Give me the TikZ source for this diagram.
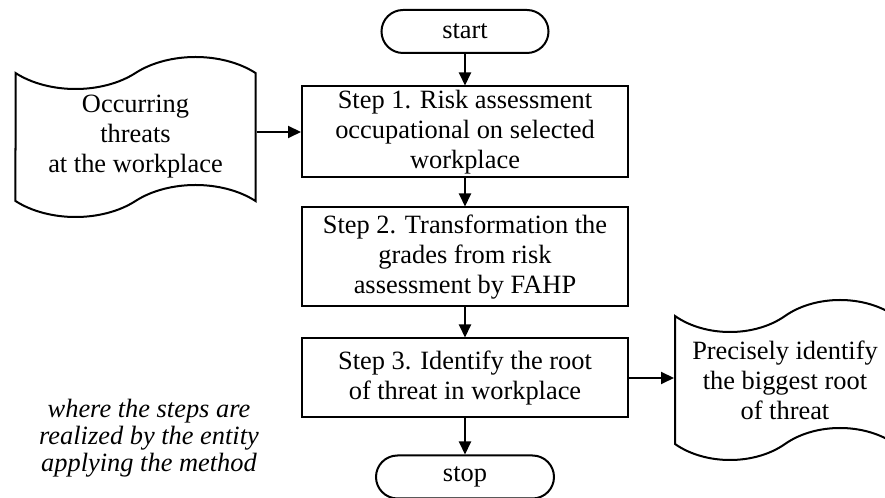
\documentclass[tikz,border=0pt]{standalone}
\usepackage{fontspec}
\setmainfont{Liberation Serif}
\usetikzlibrary{arrows.meta}
\usetikzlibrary{shapes.symbols}

\begin{document}
\begin{tikzpicture}[x=.5pt, y=.5pt, line width=1pt,
  font=\fontsize{13.2}{15}\selectfont,
  stepbox/.style={draw, align=center, minimum width=163pt, inner sep=0},
  termbox/.style={draw, rounded corners=10.75pt, minimum height=21.5pt, inner sep=0},
  docbox/.style={draw, tape, align=center, minimum width=120pt, minimum height=80pt, tape bend height=16pt, inner sep=0},
  flow/.style={->, >={Triangle[length=6.5pt,width=6pt]}}]
\useasboundingbox (0,0) rectangle (885,498);
% main column
\node[termbox, minimum width=83.5pt] (start) at (465,466.5) {start};
\node[stepbox, minimum height=45.5pt] (step1) at (465,366) {Step 1. Risk assessment\\occupational on selected\\workplace};
\node[stepbox, minimum height=49.5pt] (step2) at (465,241) {Step 2. Transformation the\\grades from risk\\assessment by FAHP};
\node[stepbox, minimum height=39.5pt] (step3) at (465,120) {Step 3. Identify the root\\of threat in workplace};
\node[termbox, minimum width=89pt] (stop) at (465,21) {stop};
% input and output
\node[docbox] (threats) at (135.5,361) {Occurring\\threats\\at the workplace};
\node[docbox, minimum width=110pt] (root) at (785,118) {Precisely identify\\the biggest root\\of threat};
\node[font=\fontsize{13.2}{13.5}\selectfont\itshape, align=center] (note) at (149,60) {where the steps are\\realized by the entity\\applying the method};
\draw[flow] (start) -- (step1);
\draw[flow] (step1) -- (step2);
\draw[flow] (step2) -- (step3);
\draw[flow] (step3) -- (stop);
\draw[flow] (step1.west -| threats.east) -- (step1.west);
\draw[flow] (step3.east) -- (step3.east -| root.west);
\end{tikzpicture}
\end{document}
